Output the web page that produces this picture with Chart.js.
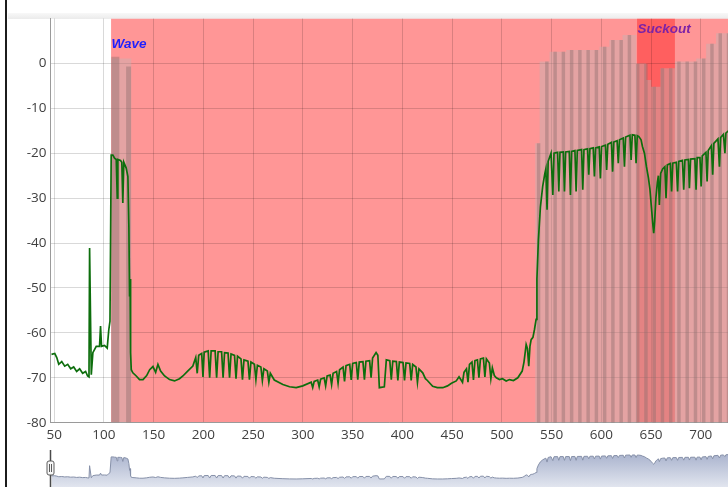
<!DOCTYPE html>
<html>
<head>
<meta charset="utf-8">
<script src="https://cdn.jsdelivr.net/npm/chart.js@4.4.1/dist/chart.umd.min.js"></script>
<style>
  body { margin: 0; background: #fff; }
  #wrap { position: relative; width: 728px; height: 487px; overflow: hidden; }
  #edge { position: absolute; left: 5px; top: 0; width: 2px; height: 487px; background: #1c1c1c; }
  #strip { position: absolute; left: 8px; top: 13px; width: 720px; height: 6px; background: linear-gradient(#f8f8f8, #ebebeb); }
  #main { position: absolute; left: 0; top: 0; }
  #nav { position: absolute; left: 0; top: 448px; }
</style>
</head>
<body>
<div id="wrap">
  <div id="edge"></div>
  <div id="strip"></div>
  <canvas id="main" width="728" height="448"></canvas>
  <canvas id="nav" width="728" height="39"></canvas>
</div>
<script>
// respuesta medida: nivel (dB) contra frecuencia (Hz)
const xTicks = [50, 100, 150, 200, 250, 300, 350, 400, 450, 500, 550, 600, 650, 700];
const yTicks = [-80, -70, -60, -50, -40, -30, -20, -10, 0];

// traza verde
const traceLow = [
  [47.3,-64.8],[50.6,-64.6],[52.6,-65.5],[54.6,-67],[57.6,-66.4],[60.6,-67.4],[63.6,-67],[66.6,-68],
  [69.6,-67.6],[72.6,-68.6],[75.6,-68],[78.6,-69],[81.6,-68.6],[83.6,-69.6],[85,-69.8],[85.6,-41.1],
  [87.3,-69.3],[88.9,-64.4],[92.3,-63],[95.6,-63],[96.6,-58.5],[97.6,-63],[100.6,-62.8],[103.3,-63.4],
  [104.9,-59.3],[106.1,-57.4],[107.3,-20.4],
  [109,-20.4],[110.7,-21.1],[112.4,-21.4],[113.4,-30],[114,-21.4],[116.7,-21.6],[118,-22],[119,-31.1],
  [120,-22],[122.4,-23.3],[124.1,-25.2],[125.1,-36.3],[125.8,-51.9],[126.3,-48],[126.8,-64.4],
  [127.5,-68.2],[129.1,-68.9],[132.5,-69.6],[135.8,-70.4],
  [139.3,-70.4],[143,-69.5],[146,-68.2],[149.3,-67.5],[152,-68.8],[154.3,-67],[157,-68.5],[161,-69.6],
  [166,-70.4],[171,-70.7],[176,-70.2],[179.4,-69.6],[184.2,-68.5],[189.4,-67.4]
];
const traceMid = [
  [192.3,-65.5],[193.8,-69],[195.3,-65],[198.3,-64.6],[199.6,-69.8],[200.8,-64.3],[204.8,-64],[206.3,-70],
  [207.8,-64],[211.8,-64],[213.3,-70],[214.8,-64.2],[218.3,-64.2],[219.8,-70],[221.3,-64.4],[224.8,-64.5],
  [226.3,-70],[227.8,-64.7],[231.3,-65],[232.8,-70.2],[234.3,-65.2],[237.8,-65.8],[239.3,-70.4],[240.8,-66],
  [244.8,-66.3],[246.3,-70.4],[247.8,-66.5],[251.3,-67],[252.8,-70.4],[254.3,-67.2],[257.8,-67.6],[259.3,-70.6],
  [260.8,-68],[264.3,-68.5],[265.8,-71],[267.3,-69],[271.3,-70.5],[279.9,-71.5],[286.6,-72],[293.3,-72.2],
  [299.9,-71.8],
  [308.4,-71],[309.9,-72.2],[311.4,-70.8],[314.9,-70.5],[316.4,-72],[317.9,-70.3],[321.4,-70],[322.9,-71.8],
  [324.4,-69.6],[327.4,-69.4],[328.9,-71.5],[330.4,-69],[333.9,-68.6],[335.4,-71.2],[336.9,-68.2],[340.4,-67.6],
  [341.9,-70.8],[343.4,-67.3],[347.1,-67],[348.6,-70.5],[350.1,-66.8],[353.7,-66.6],[355.2,-70.4],[356.7,-66.5],
  [360.4,-66.4],[361.9,-70.4],[363.4,-66.3],[367.1,-66.2],[368.6,-70],[370.1,-65.6],[373.6,-64.4],[375.4,-65],
  [376.9,-72.2],[381.9,-72],[383.9,-66],
  [387.4,-66.2],[388.9,-70.4],[390.4,-66.3],[394,-66.4],[395.5,-70.6],[397,-66.5],[400.7,-66.6],[402.2,-70.6],
  [403.7,-66.7],[407.4,-66.8],[408.9,-70.6],[410.4,-67],[413.7,-67.6],[415.2,-71],[416.7,-68],[420.5,-68.9],
  [423.2,-70.2],[425.2,-70.6],[430.5,-71.9],[435.2,-72.2],[440.7,-72.2],[445.4,-71.8],[449.4,-71.2],[454.2,-70.7],
  [457,-69.8],[460.5,-71],[462,-68.8],[464.5,-68],[466,-71],[467.5,-67],[470,-66.5],[471.5,-70.5],
  [473,-66.2],[475.5,-66],[477,-70],[478.5,-65.8],[481.5,-65.6],[483,-69.8],[484.5,-65.8],[487.5,-66.7],
  [489,-70.2],[490.5,-67.8],[492.5,-69.5],[494.5,-70],[497.7,-70.4],[500.7,-70.2],[504.4,-70.7],[507.7,-70.4],
  [511.7,-70.6],[516.1,-70],[520.5,-68.5],[522.3,-66.5],[524.5,-62.6],[525.8,-63.5],[527.1,-67.4],[528.3,-63],
  [529.5,-61.5],[531.3,-61],[532.8,-59.3],[534.5,-57],[535.3,-48],[536.8,-39.3],[538.8,-32],[541.1,-27.4],
  [543.3,-24.5],[544.3,-23.5],[545.5,-32.6],[546.6,-21.8],[549.5,-20]
];
const traceHigh = [
  [550.2,-20],[551.3,-29.3],[552.5,-20],[556.1,-19.8],[557.3,-28.5],[558.5,-19.8],[561.8,-19.7],[563,-28.5],
  [564.2,-19.7],[567.8,-19.6],[569,-29.3],[570.2,-19.6],[573.5,-19.4],[574.7,-28.5],[575.9,-19.4],[580.2,-19.2],
  [581.4,-28.1],[582.6,-19.2],[586.2,-19],[587.4,-24.8],[588.6,-19],[591.9,-18.8],[593.1,-25.2],[594.3,-18.8],
  [597.9,-18.6],[599.1,-25.6],[600.3,-18.5],[604.2,-18.2],[605.4,-23.7],[606.6,-18],[610.2,-17.6],[611.4,-24.1],
  [612.6,-17.5],[615.9,-17.2],[617.1,-22.2],[618.3,-17],[622.1,-16.6],[623.3,-23],[624.5,-16.4],[628.8,-16],
  [630,-21.5],[631.2,-15.9],[633.8,-16],[635,-22.2],[636.2,-16.1],[637.8,-16.3],[640,-17],[641.4,-18.5],
  [643.4,-20],[645.4,-23],[647.4,-25.5],[648.9,-28],[650.4,-32],[651.9,-36],[652.7,-37.8],[653.7,-35],
  [654.9,-30],[656.4,-26.5],[657.4,-25],[658.4,-31.5],[659.7,-24.5],[661.7,-23.5],[663.9,-23],[665.1,-30],
  [666.4,-22.6],[669.4,-22.3],[670.7,-28.5],[671.9,-22.2],[675.4,-22],[676.7,-28.5],[677.9,-21.8],[681.6,-21.6],
  [682.9,-28.1],[684.1,-21.5],[687.6,-21.4],[688.6,-27.8],[689.8,-21.3],[694.1,-21.2],[695.3,-28.1],[696.4,-21],
  [699.2,-21],[700.4,-27.4],[701.5,-20.6],[705.2,-19.8],[706.4,-26.3],[707.5,-19.4],[710.7,-18.3],[712,-24.8],
  [713.2,-17.8],[717.3,-16.8],[718.8,-23],[720,-16.5],[722.8,-15.8],[724.3,-20],[725.3,-15.5],[727.8,-15]
];

// envolvente de las rebanadas grises (escalon: vale desde x hasta el siguiente x)
const shadeSteps = [
  [107.3, 1.1], [127.5, -80], [533.6, -17.8], [538, 0.4], [548, 2.6], [564.8, 3], [598.2, 3.7], [608.2, 5.2],
  [621.4, 6.3], [635.1, 0], [645.2, -3.7], [650.2, -5.2], [659.5, -1.1], [674.2, 0.4], [695.4, 1.1],
  [705.4, 4.4], [715.4, 6.7], [730, 6.7]
];
const waveSteps = [[107.3, 1.5], [115.5, -80], [122.3, -0.7], [127.5, -80]];
const sliceX = [537, 545.3, 553.6, 561.9, 570.2, 578.5, 586.8, 595.1, 603.4, 611.7, 620, 628.3,
  636.6, 644.9, 653.2, 661.5, 669.8, 678.1, 686.4, 694.7, 703, 711.3, 719.6, 727.9];
const sliceTop = [-17.8, 0.4, 2.6, 2.6, 3, 3, 3, 3, 3.7, 5.2, 5.2, 6.3,
  0, 0, -5.2, -1.1, -1.1, 0.4, 0.4, 0.4, 1.1, 4.4, 6.7, 6.7];

// zonas marcadas
const pinkBand = [107.2, 730];
const suckoutBand = [636, 674];
const noteText = ['Wave', 'Suckout'];
const noteX = [107.7, 636.3];
const noteY = [4.2, 7.6];

const trace = traceLow.concat(traceMid, traceHigh);
const X_MIN = 46.3, X_MAX = 727.4;

const setTicks = (vals) => (scale) => { scale.ticks = vals.map(v => ({ value: v })); };

const bandas = {
  id: 'bandas',
  beforeDraw(chart) {
    const { ctx, chartArea: a, scales: { x } } = chart;
    ctx.save();
    ctx.beginPath();
    ctx.rect(a.left, a.top, a.right - a.left, a.bottom - a.top);
    ctx.clip();
    const p0 = x.getPixelForValue(pinkBand[0]), p1 = x.getPixelForValue(pinkBand[1]);
    ctx.fillStyle = '#ff9696';
    ctx.fillRect(p0, a.top, p1 - p0, a.bottom - a.top);
    const s0 = x.getPixelForValue(suckoutBand[0]), s1 = x.getPixelForValue(suckoutBand[1]);
    ctx.fillStyle = 'rgba(255,40,40,0.5)';
    ctx.fillRect(s0, a.top, s1 - s0, a.bottom - a.top);
    ctx.restore();
  }
};

const notas = {
  id: 'notas',
  afterDatasetsDraw(chart) {
    const { ctx, scales: { x, y } } = chart;
    const colores = ['#1f1fff', '#7d22a6'];
    ctx.save();
    ctx.font = 'italic bold 13.5px "Liberation Sans"';
    ctx.textBaseline = 'middle';
    noteText.forEach((t, i) => {
      ctx.fillStyle = colores[i];
      ctx.fillText(t, x.getPixelForValue(noteX[i]), y.getPixelForValue(noteY[i]));
    });
    ctx.restore();
  }
};

const fuente = { family: '"Open Sans"', size: 13.5 };
const rejilla = { color: 'rgba(0,0,0,0.15)', drawTicks: false, offset: false };

new Chart(document.getElementById('main'), {
  type: 'line',
  data: {
    datasets: [
      {
        label: 'Nivel',
        data: trace,
        borderColor: '#0d6e0d',
        borderWidth: 1.7,
        pointRadius: 0,
        tension: 0,
        order: 0
      },
      {
        type: 'bar',
        data: sliceX.map((v, i) => ({ x: v, y: [-80, sliceTop[i]] })),
        backgroundColor: 'rgba(140,110,110,0.42)',
        barPercentage: 0.42,
        categoryPercentage: 1,
        grouped: false,
        order: 1
      },
      {
        data: waveSteps,
        stepped: true,
        fill: 'start',
        backgroundColor: 'rgba(140,110,110,0.42)',
        borderWidth: 0,
        pointRadius: 0,
        order: 2
      },
      {
        data: shadeSteps,
        stepped: true,
        fill: 'start',
        backgroundColor: 'rgba(190,180,180,0.42)',
        borderWidth: 0,
        pointRadius: 0,
        order: 3
      }
    ]
  },
  options: {
    responsive: false,
    animation: false,
    layout: { padding: { top: 18.5, left: 0, right: 0, bottom: 0 } },
    plugins: { legend: { display: false }, tooltip: { enabled: false } },
    scales: {
      x: {
        type: 'linear',
        min: X_MIN,
        max: X_MAX,
        offset: false,
        afterBuildTicks: setTicks(xTicks),
        afterFit: (s) => { s.height = 25.3; },
        grid: rejilla,
        border: { color: '#9a9a9a' },
        ticks: { font: fuente, color: '#404040', padding: 4, maxRotation: 0 }
      },
      y: {
        min: -80,
        max: 10,
        afterBuildTicks: setTicks(yTicks),
        afterFit: (s) => { s.width = 50.5; },
        grid: rejilla,
        border: { color: '#9a9a9a' },
        ticks: { font: fuente, color: '#404040', padding: 4 }
      }
    }
  },
  plugins: [bandas, notas]
});

// navegador inferior
const tirador = {
  id: 'tirador',
  afterDraw(chart) {
    const { ctx, chartArea: a } = chart;
    const cx = Math.round(a.left) - 0.5;
    ctx.save();
    ctx.strokeStyle = '#4a4a4a';
    ctx.lineWidth = 1.5;
    ctx.beginPath();
    ctx.moveTo(cx, 2);
    ctx.lineTo(cx, a.bottom);
    ctx.stroke();
    ctx.fillStyle = '#f6f6f6';
    ctx.strokeStyle = '#5c5c5c';
    ctx.lineWidth = 1;
    ctx.beginPath();
    ctx.roundRect(cx - 3.5, 13, 7, 14, 2);
    ctx.fill();
    ctx.stroke();
    ctx.beginPath();
    ctx.moveTo(cx - 1, 16); ctx.lineTo(cx - 1, 24);
    ctx.moveTo(cx + 1, 16); ctx.lineTo(cx + 1, 24);
    ctx.stroke();
    ctx.restore();
  }
};

new Chart(document.getElementById('nav'), {
  type: 'line',
  data: {
    datasets: [{
      data: trace,
      borderColor: '#8791a9',
      borderWidth: 1,
      pointRadius: 0,
      fill: 'start',
      backgroundColor: (c) => {
        const a = c.chart.chartArea;
        if (!a) return 'rgba(180,190,210,0.8)';
        const g = c.chart.ctx.createLinearGradient(0, a.top, 0, a.bottom);
        g.addColorStop(0, 'rgba(150,162,194,0.9)');
        g.addColorStop(1, 'rgba(222,226,237,0.9)');
        return g;
      }
    }]
  },
  options: {
    responsive: false,
    animation: false,
    layout: { padding: { left: 50.5, right: 0, top: 0, bottom: 0 } },
    plugins: { legend: { display: false }, tooltip: { enabled: false } },
    scales: {
      x: { type: 'linear', min: X_MIN, max: X_MAX, display: false },
      y: { min: -91, max: 0.4, display: false }
    }
  },
  plugins: [tirador]
});
</script>
</body>
</html>
